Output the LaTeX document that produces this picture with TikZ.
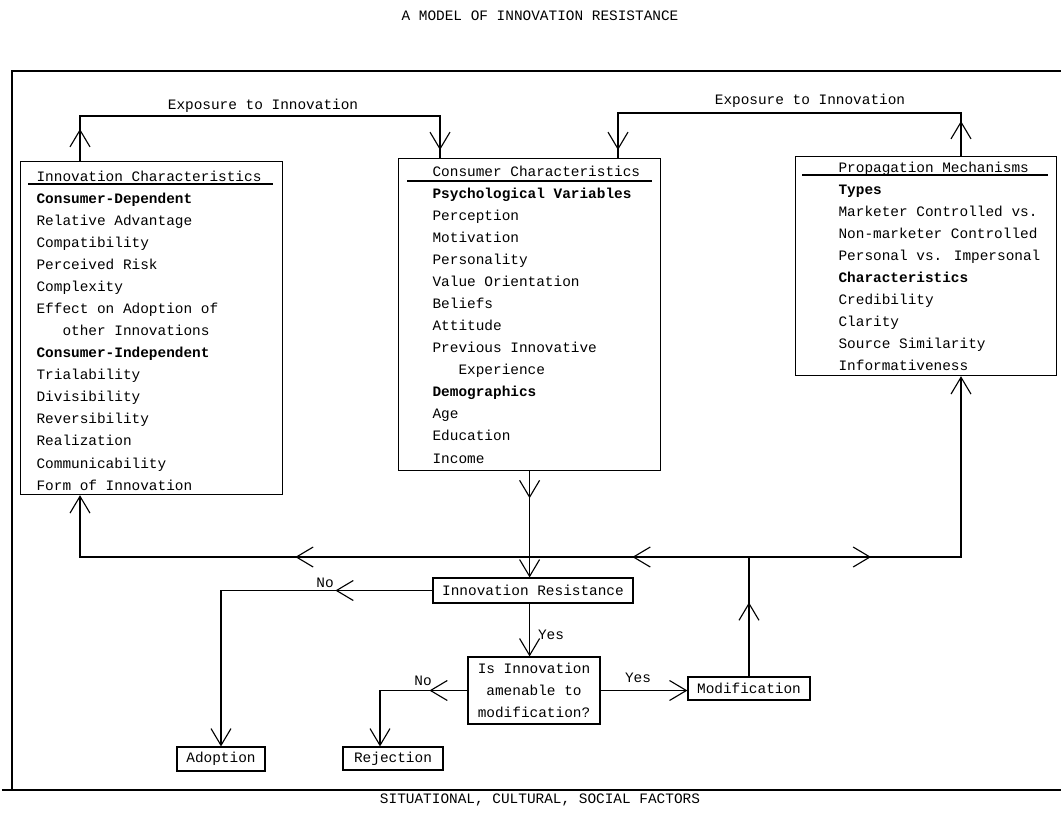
\documentclass[tikz,border=0pt]{standalone}
\usepackage{fontspec}
\setmainfont{Liberation Mono}
\usepackage{tikz}
\usetikzlibrary{arrows.meta,decorations.markings}

\begin{document}
\begin{tikzpicture}[x=0.025cm,y=-0.025cm,line width=0.8pt,
  font=\fontsize{10.25pt}{15.7pt}\selectfont,
  >={Straight Barb[length=4.2mm,width=5mm]},
  box/.style={draw,inner sep=0pt},
  itemlist/.style={anchor=north west,align=left,inner sep=0pt},
  tag/.style={inner sep=0pt},
  tipat/.style={postaction={decorate,decoration={markings,
      mark=at position #1 with {\arrow{>}}}}}]
\useasboundingbox (0,0) rectangle (1061,812);

% outer frame
\draw (12,790) -- (12,71) -- (1061,71);
\draw (2,790) -- (1061,790);
\node[tag] (title) at (540,16) {A MODEL OF INNOVATION RESISTANCE};
\node[tag] (factors) at (540,800) {SITUATIONAL, CULTURAL, SOCIAL FACTORS};

% the three boxes
\node[box,anchor=north west,minimum width=6.55cm,minimum height=8.325cm] (innov) at (20,161) {};
\node[box,anchor=north west,minimum width=6.55cm,minimum height=7.8cm] (consumer) at (398,158) {};
\node[box,anchor=north west,minimum width=6.525cm,minimum height=5.475cm] (propag) at (795,156) {};

\node[itemlist] (innovlist) at (36,170) {Innovation Characteristics\\
  \textbf{Consumer-Dependent}\\ Relative Advantage\\ Compatibility\\
  Perceived Risk\\ Complexity\\ Effect on Adoption of\\
  \phantom{xxx}other Innovations\\ \textbf{Consumer-Independent}\\
  Trialability\\ Divisibility\\ Reversibility\\ Realization\\
  Communicability\\ Form of Innovation};
\node[itemlist] (consumerlist) at (432,165) {Consumer Characteristics\\
  \textbf{Psychological Variables}\\ Perception\\ Motivation\\
  Personality\\ Value Orientation\\ Beliefs\\ Attitude\\
  Previous Innovative\\ \phantom{xxx}Experience\\ \textbf{Demographics}\\
  Age\\ Education\\ Income};
\node[itemlist] (propaglist) at (838,161) {Propagation Mechanisms\\
  \textbf{Types}\\ Marketer Controlled vs.\\ Non-marketer Controlled\\
  Personal vs. Impersonal\\ \textbf{Characteristics}\\ Credibility\\
  Clarity\\ Source Similarity\\ Informativeness};
\draw (28,184) -- (273,184);
\draw (407,181) -- (652,181);
\draw (802,175) -- (1048,175);

% decision part
\node[box,minimum width=5cm,minimum height=6.25mm] (resist) at (533,590.5) {Innovation Resistance};
\node[box,minimum width=3.3cm,minimum height=16.75mm,align=center] (amen) at (534,690.5) {Is Innovation\\amenable to\\modification?};
\node[box,minimum width=3.05cm,minimum height=5.75mm] (modif) at (749,688.5) {Modification};
\node[box,minimum width=2.2cm,minimum height=6mm] (adopt) at (221,759) {Adoption};
\node[box,minimum width=2.5cm,minimum height=5.75mm] (reject) at (393,758.5) {Rejection};

\coordinate (ex1) at (80,116);
\coordinate (ex2) at (440,116);
\coordinate (ex3) at (618,113);
\coordinate (ex4) at (961,113);
\coordinate (mainline) at (0,557);
\coordinate (hub) at (modif.north |- mainline);
\coordinate (rj) at (380,0);

% exposure loops
\draw[tipat=0.8cm,tipat=-0.2cm] (innov.north -| ex1) -- (ex1) -- (ex2) -- (consumer.north -| ex2);
\draw[tipat=0.875cm,tipat=-0.2cm] (propag.north -| ex4) -- (ex4) -- (ex3) -- (consumer.north -| ex3);
\node[tag] (exposeleft) at (263,106) {Exposure to Innovation};
\node[tag] (exposeright) at (810,101) {Exposure to Innovation};

% main flow
\draw[->,tipat=0.675cm] (consumer.south) -- (consumer.south |- resist.north);
\draw[->,tipat=1.85cm,tipat=5.9cm,tipat=14.325cm] (modif.north) -- (hub) -| (innov.south -| ex1);
\draw[->,tipat=3.05cm] (hub) -| (propag.south -| ex4);
\draw[->,tipat=2.425cm] (resist.west) -| (adopt.north);
\draw[->] (resist.south -| consumer.south) -- (amen.north -| consumer.south);
\draw[->,tipat=0.95cm] (amen.west) -| (reject.north -| rj);
\draw[->] (amen.east) -- (amen.east -| modif.west);
\node[tag] (no1) at (325,583) {No};
\node[tag] (yes1) at (551,635) {Yes};
\node[tag] (no2) at (423,681) {No};
\node[tag] (yes2) at (638,678) {Yes};
\end{tikzpicture}
\end{document}
